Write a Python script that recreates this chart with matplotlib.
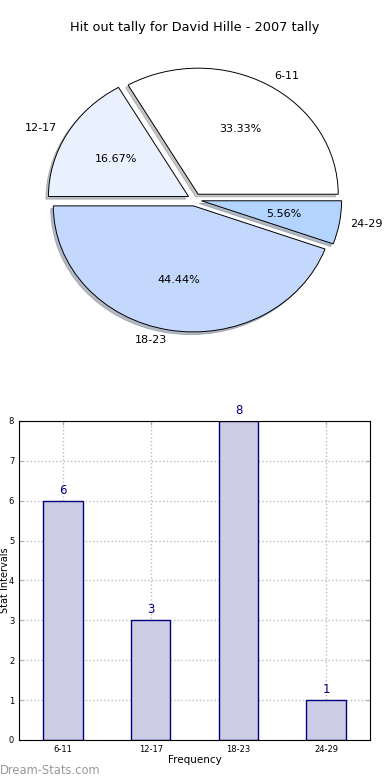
import numpy as np
import matplotlib
matplotlib.use("Agg")
import matplotlib.pyplot as plt

# donnees
intervalles = ["6-11", "12-17", "18-23", "24-29"]
effectifs = [6, 3, 8, 1]
couleurs_pie = ["#ffffff", "#eaf1fe", "#c4d8fe", "#b2d4fe"]
titre = "Hit out tally for David Hille - 2007 tally"

fig = plt.figure(figsize=(3.9, 7.8), dpi=100)

# camembert
ax1 = fig.add_axes([0.05, 0.542, 0.898, 0.404])
ax1.pie(effectifs, labels=intervalles, colors=couleurs_pie, autopct="%.2f%%",
        explode=[0.05] * len(effectifs), startangle=0, labeldistance=1.08,
        shadow={"ox": -0.013, "oy": -0.015, "shade": 0.45},
        wedgeprops={"edgecolor": "black", "linewidth": 0.7},
        textprops={"fontsize": 8})
ax1.set_aspect("auto")
ax1.set_title(titre, fontsize=9.3, pad=8)

# histogramme
ax2 = fig.add_axes([0.049, 0.0513, 0.9, 0.409])
x = np.arange(len(intervalles))
ax2.bar(x, effectifs, width=0.45, color="#ccccE4", edgecolor="#000080",
        linewidth=1, zorder=2)
for xi, v in zip(x, effectifs):
    ax2.text(xi, v + 0.1, str(v), ha="center", va="bottom", color="#000080",
             fontsize=8.5)
ax2.set_xlim(-0.5, 3.5)
ax2.set_ylim(0, 8)
ax2.set_xticks(x)
ax2.set_xticklabels(intervalles)
ax2.tick_params(labelsize=6, direction="in", top=True, right=True,
                color="#aaaaaa", length=3)
ax2.grid(True, linestyle=":", color="#bbbbbb", linewidth=1, zorder=0)
ax2.set_axisbelow(True)
ax2.set_xlabel("Frequency", fontsize=7.5, labelpad=1)
ax2.set_ylabel("Stat Intervals", fontsize=7)
ax2.yaxis.set_label_coords(-0.027, 0.5)

fig.text(0.0, 0.004, "Dream-Stats.com", color="#999999", fontsize=8.3,
         ha="left", va="bottom")

plt.savefig("out.png", dpi=100)
